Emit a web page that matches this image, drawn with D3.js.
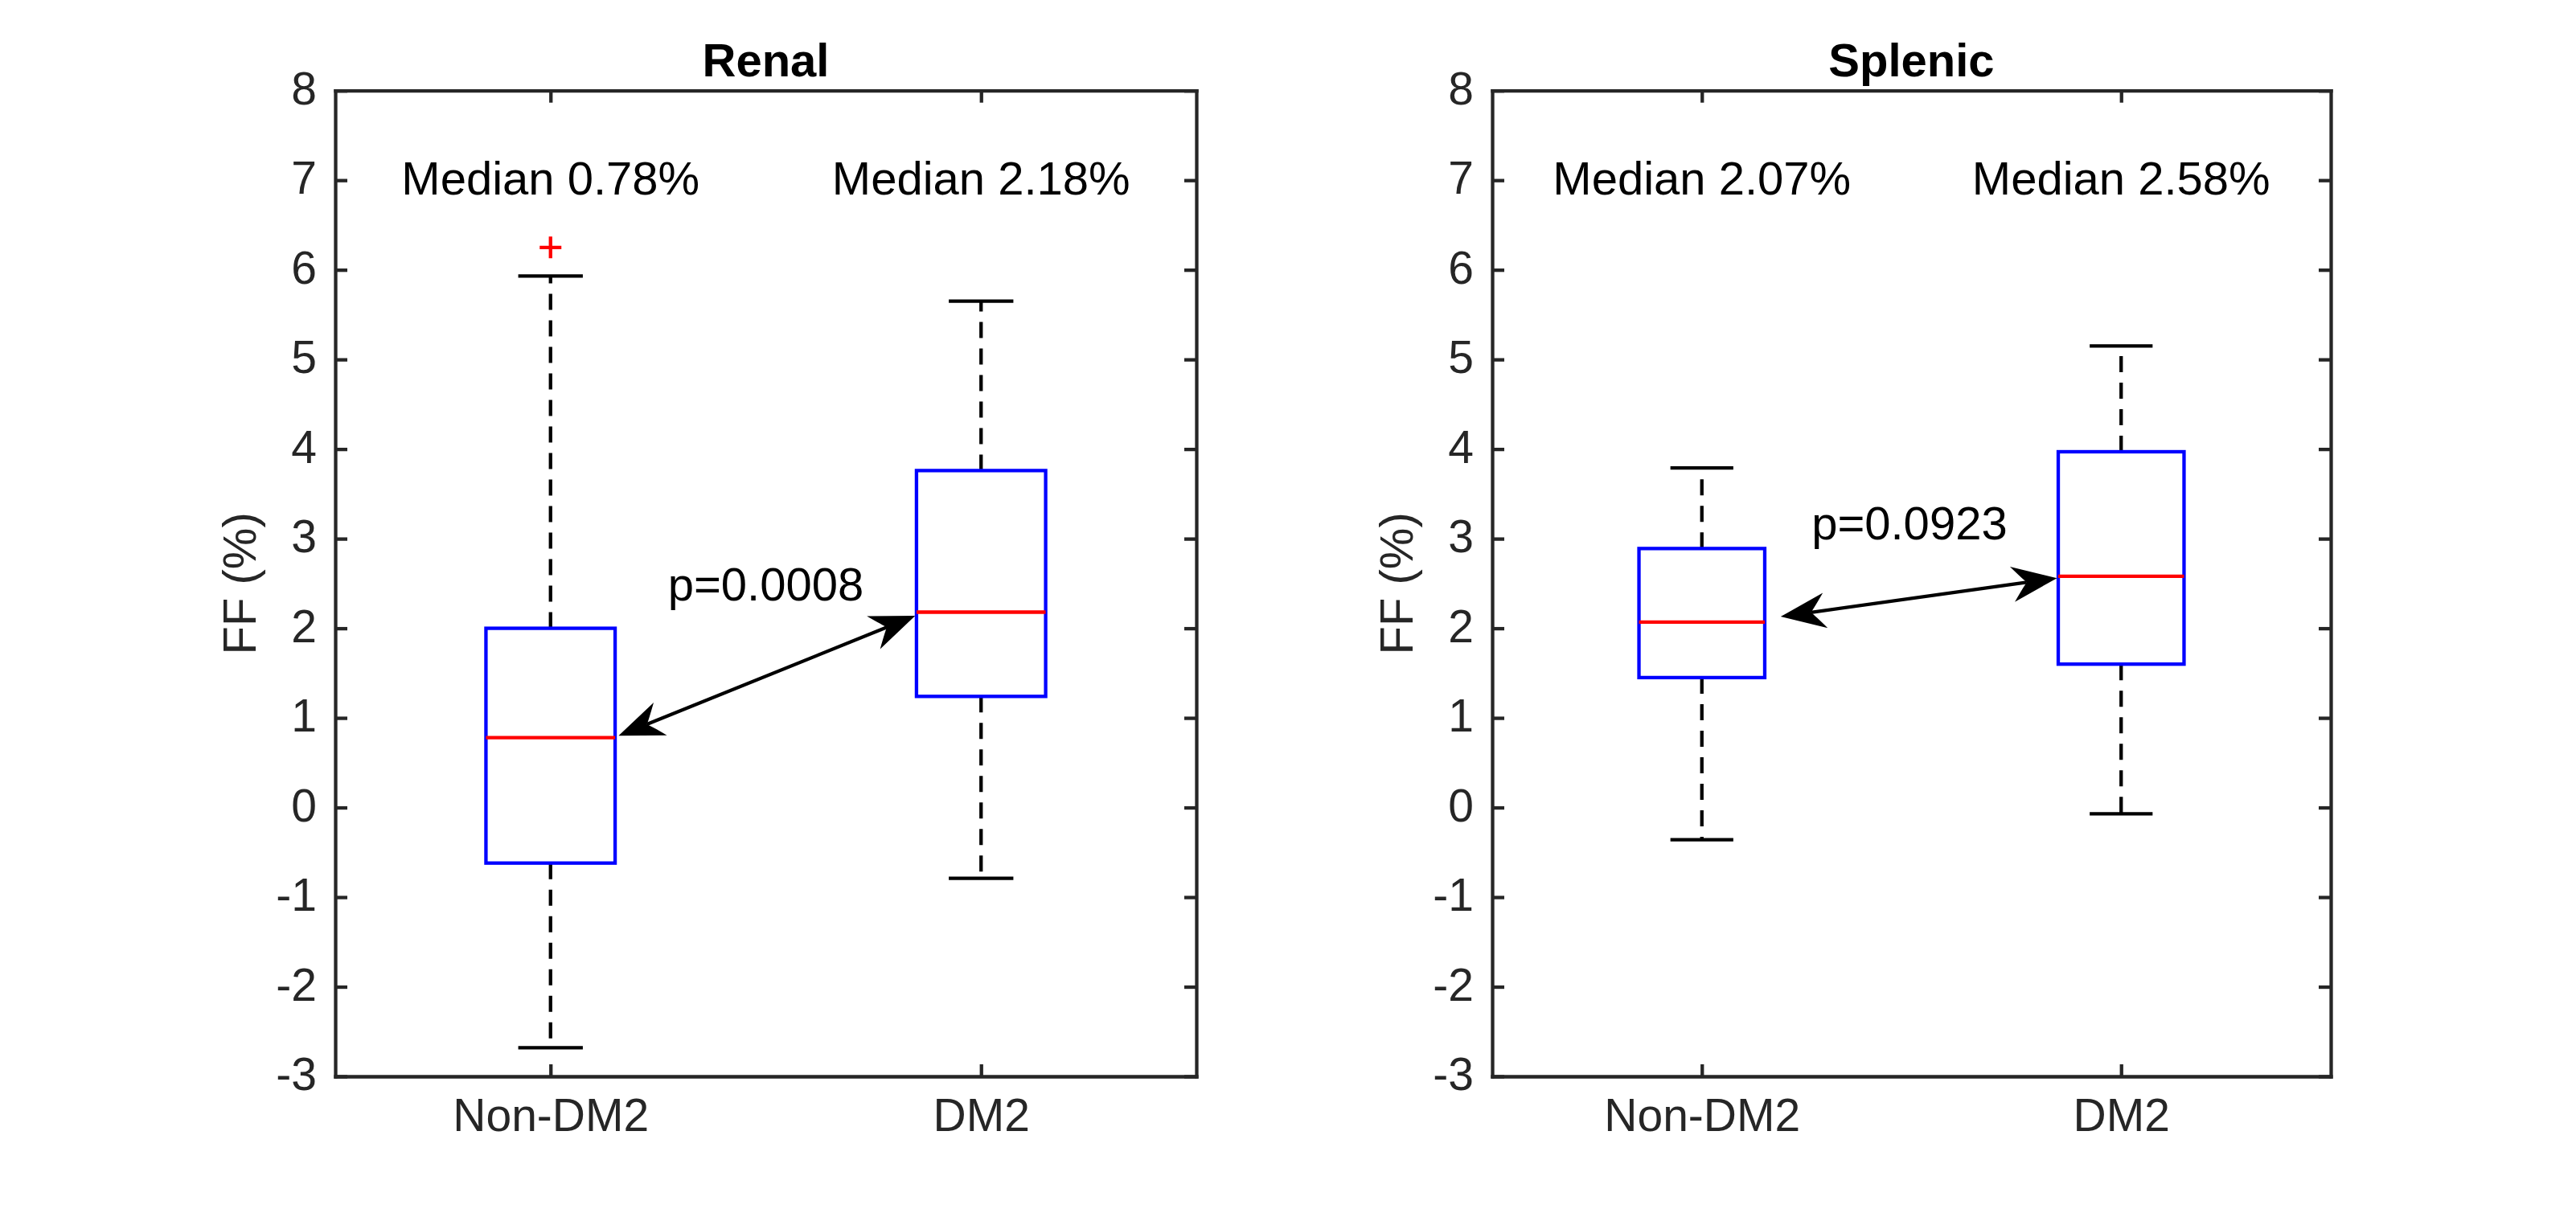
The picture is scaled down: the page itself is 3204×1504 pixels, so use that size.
<!DOCTYPE html>
<html><head><meta charset="utf-8">
<script src="https://cdn.jsdelivr.net/npm/d3@7"></script>
<style>html,body{margin:0;padding:0;background:#fff;} svg{display:block;background:#fff}</style>
</head><body>
<svg id="chart" width="3204" height="1504"></svg>
<script>
// ---------------- data ----------------
const categories = ["Non-DM2", "DM2"];
const panelTitles = ["Renal", "Splenic"];
const yTicks = [-3, -2, -1, 0, 1, 2, 3, 4, 5, 6, 7, 8];
const yLabel = "FF (%)";

// Renal box statistics (Non-DM2, DM2)
const renalLowerWhisker = [-2.68, -0.79];
const renalQ1 = [-0.62, 1.24];
const renalMedian = [0.78, 2.18];
const renalQ3 = [2.00, 3.76];
const renalUpperWhisker = [5.93, 5.65];
const renalOutliers = [[6.25], []];

// Splenic box statistics (Non-DM2, DM2)
const splenicLowerWhisker = [-0.36, -0.07];
const splenicQ1 = [1.45, 1.60];
const splenicMedian = [2.07, 2.58];
const splenicQ3 = [2.89, 3.97];
const splenicUpperWhisker = [3.79, 5.15];
const splenicOutliers = [[], []];

// annotations
const renalMedianLabels = ["Median 0.78%", "Median 2.18%"];
const splenicMedianLabels = ["Median 2.07%", "Median 2.58%"];
const medianLabelY = 6.84;
const pLabels = ["p=0.0008", "p=0.0923"];
const pLabelX = [1.50, 1.495];
const pLabelY = [2.31, 2.99];
const arrowStartX = [1.158, 1.188];
const arrowStartY = [0.80, 2.13];
const arrowEndX = [1.847, 1.847];
const arrowEndY = [2.14, 2.56];

// ---------------- layout ----------------
const W = 3204, H = 1504;
const plotTop = 112.7, plotBottom = 1339;
const panelsPx = [{left: 417, right: 1488}, {left: 1856, right: 2899}];
const FONT = "'Liberation Sans', Arial, Helvetica, sans-serif";
const AX = "#262626";
const LW = 4.3;
const TXT = 58, TICK = 57;

const panels = [
  {title: panelTitles[0], lw: renalLowerWhisker, q1: renalQ1, med: renalMedian, q3: renalQ3, uw: renalUpperWhisker, out: renalOutliers, mlab: renalMedianLabels},
  {title: panelTitles[1], lw: splenicLowerWhisker, q1: splenicQ1, med: splenicMedian, q3: splenicQ3, uw: splenicUpperWhisker, out: splenicOutliers, mlab: splenicMedianLabels}
];

const svg = d3.select("#chart");
svg.append("rect").attr("width", W).attr("height", H).attr("fill", "#fff");

panels.forEach((p, pi) => {
  const px = panelsPx[pi];
  const x = d3.scaleLinear().domain([0.5, 2.5]).range([px.left, px.right]);
  const y = d3.scaleLinear().domain([-3, 8]).range([plotBottom, plotTop]);
  const g = svg.append("g");
  const boxHalf = 0.15, capHalf = 0.075;

  categories.forEach((c, i) => {
    const cx = x(i + 1);
    g.append("line").attr("x1", cx).attr("x2", cx).attr("y1", y(p.q3[i])).attr("y2", y(p.uw[i]))
      .attr("stroke", "#000").attr("stroke-width", LW).attr("stroke-dasharray", "20,13");
    g.append("line").attr("x1", cx).attr("x2", cx).attr("y1", y(p.q1[i])).attr("y2", y(p.lw[i]))
      .attr("stroke", "#000").attr("stroke-width", LW).attr("stroke-dasharray", "20,13");
    [p.uw[i], p.lw[i]].forEach(v => {
      g.append("line").attr("x1", x(i + 1 - capHalf)).attr("x2", x(i + 1 + capHalf))
        .attr("y1", y(v)).attr("y2", y(v)).attr("stroke", "#000").attr("stroke-width", LW);
    });
    g.append("rect").attr("x", x(i + 1 - boxHalf)).attr("width", x(i + 1 + boxHalf) - x(i + 1 - boxHalf))
      .attr("y", y(p.q3[i])).attr("height", y(p.q1[i]) - y(p.q3[i]))
      .attr("fill", "none").attr("stroke", "#0000ff").attr("stroke-width", LW);
    g.append("line").attr("x1", x(i + 1 - boxHalf)).attr("x2", x(i + 1 + boxHalf))
      .attr("y1", y(p.med[i])).attr("y2", y(p.med[i])).attr("stroke", "#ff0000").attr("stroke-width", LW);
    p.out[i].forEach(v => {
      const ox = x(i + 1), oy = y(v), s = 13.5;
      g.append("path").attr("d", `M${ox - s},${oy}H${ox + s}M${ox},${oy - s}V${oy + s}`)
        .attr("stroke", "#ff0000").attr("stroke-width", LW).attr("fill", "none");
    });
    g.append("text").attr("x", x(i + 1)).attr("y", y(medianLabelY)).attr("text-anchor", "middle")
      .attr("font-family", FONT).attr("font-size", TXT).attr("fill", "#000").text(p.mlab[i]);
  });

  const styleAxis = sel => {
    sel.select(".domain").attr("stroke", AX).attr("stroke-width", LW).attr("stroke-linecap", "square");
    sel.selectAll(".tick line").attr("stroke", AX).attr("stroke-width", LW);
    sel.selectAll(".tick text").attr("fill", AX).attr("font-family", FONT).attr("font-size", TICK);
  };
  const yl = g.append("g").attr("transform", `translate(${px.left},0)`)
    .call(d3.axisLeft(y).tickValues(yTicks).tickSizeInner(-15).tickSizeOuter(0).tickPadding(23).tickFormat(d => String(d)));
  styleAxis(yl);
  yl.selectAll(".tick text").attr("dy", "0.29em");
  const yr = g.append("g").attr("transform", `translate(${px.right},0)`)
    .call(d3.axisRight(y).tickValues(yTicks).tickSizeInner(-15).tickSizeOuter(0).tickFormat(""));
  styleAxis(yr);
  const xt = g.append("g").attr("transform", `translate(0,${plotTop})`)
    .call(d3.axisTop(x).tickValues([1, 2]).tickSizeInner(-15).tickSizeOuter(0).tickFormat(""));
  styleAxis(xt);
  const xb = g.append("g").attr("transform", `translate(0,${plotBottom})`)
    .call(d3.axisBottom(x).tickValues([1, 2]).tickSizeInner(-15).tickSizeOuter(0).tickFormat(d => categories[d - 1]));
  styleAxis(xb);
  xb.selectAll(".tick text").attr("dy", null).attr("y", 68);

  g.append("text").attr("x", (px.left + px.right) / 2).attr("y", 95).attr("text-anchor", "middle")
    .attr("font-family", FONT).attr("font-size", TXT).attr("font-weight", "bold").attr("fill", "#000").text(p.title);
  const ylx = px.left - 99, yly = (plotTop + plotBottom) / 2;
  g.append("text").attr("transform", `translate(${ylx},${yly}) rotate(-90)`).attr("text-anchor", "middle")
    .attr("font-family", FONT).attr("font-size", TXT).attr("fill", AX).text(yLabel);

  g.append("text").attr("x", x(pLabelX[pi])).attr("y", y(pLabelY[pi])).attr("text-anchor", "middle")
    .attr("font-family", FONT).attr("font-size", TXT).attr("fill", "#000").text(pLabels[pi]);

  const ax1 = x(arrowStartX[pi]), ay1 = y(arrowStartY[pi]);
  const ax2 = x(arrowEndX[pi]), ay2 = y(arrowEndY[pi]);
  const dx = ax2 - ax1, dy = ay2 - ay1, len = Math.hypot(dx, dy);
  const ux = dx / len, uy = dy / len;
  const L = 56, HW = 22, N = 38;
  g.append("line").attr("x1", ax1 + ux * N).attr("y1", ay1 + uy * N)
    .attr("x2", ax2 - ux * N).attr("y2", ay2 - uy * N)
    .attr("stroke", "#000").attr("stroke-width", LW);
  const head = (tx, ty, bx, by) => {
    const px_ = -by, py_ = bx;
    return `M${tx},${ty}` +
      `L${tx + bx * L + px_ * HW},${ty + by * L + py_ * HW}` +
      `Q${tx + bx * (N + 4) + px_ * 4},${ty + by * (N + 4) + py_ * 4} ${tx + bx * N},${ty + by * N}` +
      `Q${tx + bx * (N + 4) - px_ * 4},${ty + by * (N + 4) - py_ * 4} ${tx + bx * L - px_ * HW},${ty + by * L - py_ * HW}Z`;
  };
  g.append("path").attr("d", head(ax1, ay1, ux, uy)).attr("fill", "#000");
  g.append("path").attr("d", head(ax2, ay2, -ux, -uy)).attr("fill", "#000");
});
</script>
</body></html>
